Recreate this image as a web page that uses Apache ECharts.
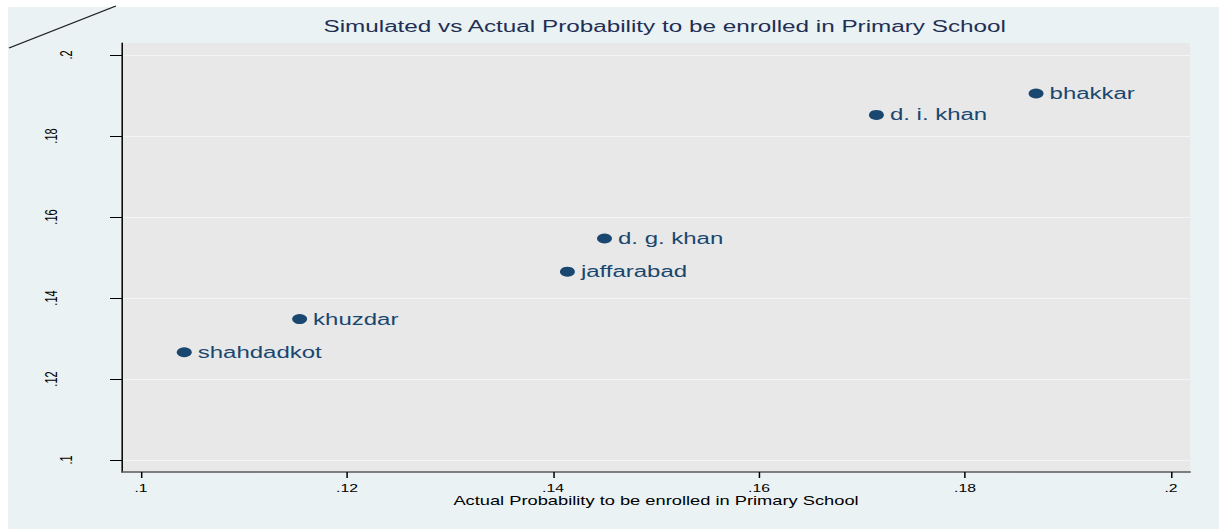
<!DOCTYPE html>
<html>
<head>
<meta charset="utf-8">
<title>Simulated vs Actual Probability</title>
<script src="https://cdn.jsdelivr.net/npm/echarts@6/dist/echarts.min.js"></script>
<style>
html, body { margin: 0; padding: 0; background: #fff; overflow: hidden; }
/* the source picture is stretched sideways, so draw narrow and widen */
#chart { width: 813px; height: 529px; transform: scaleX(1.4994); transform-origin: 0 0; }
</style>
</head>
<body>
<div id="chart"></div>
<script>
const districts = ["shahdadkot", "khuzdar", "jaffarabad", "d. g. khan", "d. i. khan", "bhakkar"];
const actualProb = [0.1042, 0.1154, 0.1414, 0.1450, 0.1714, 0.1869];
const simulatedProb = [0.1266, 0.1348, 0.1465, 0.1547, 0.1852, 0.1905];
const xTicks = [0.1, 0.12, 0.14, 0.16, 0.18, 0.2];
const xTickLabels = [".1", ".12", ".14", ".16", ".18", ".2"];
const yTicks = [0.1, 0.12, 0.14, 0.16, 0.18, 0.2];
const yTickLabels = [".1", ".12", ".14", ".16", ".18", ".2"];

const FONT = "'Liberation Sans', Arial, Helvetica, sans-serif";
const NAVY = "#1a476f";

function tickText(ticks, labels, v) {
  const i = ticks.findIndex(t => Math.abs(t - v) < 1e-9);
  return i >= 0 ? labels[i] : "";
}

const chart = echarts.init(document.getElementById("chart"), null, { renderer: "svg" });

const option = {
  backgroundColor: "#fff",
  animation: false,
  graphic: [
    {
      type: "rect",
      z: -100,
      shape: { x: 5.33, y: 7, width: 900, height: 600 },
      style: { fill: "#eaf2f3" }
    },
    {
      type: "line",
      z: 100,
      shape: { x1: 6, y1: 48, x2: 77.3, y2: 6 },
      style: { stroke: "#222", lineWidth: 1 }
    },
    {
      type: "text",
      x: 443.3,
      y: 26,
      style: {
        text: "Simulated vs Actual Probability to be enrolled in Primary School",
        fill: "#1f2f55",
        fontSize: 16.2,
        fontFamily: FONT,
        align: "center",
        verticalAlign: "middle"
      }
    }
  ],
  grid: {
    left: 81.37,
    right: 19.35,
    top: 43,
    bottom: 57,
    show: true,
    backgroundColor: "#e8e8e8",
    borderWidth: 0
  },
  xAxis: {
    type: "value",
    min: 0.098155,
    max: 0.201845,
    name: "Actual Probability to be enrolled in Primary School",
    nameLocation: "middle",
    nameGap: 23,
    nameMoveOverlap: false,
    nameTextStyle: { fontSize: 12.2, color: "#000", fontFamily: FONT },
    axisLine: { show: true, lineStyle: { color: "#5a5a5a", width: 1.5 } },
    axisTick: {
      show: true,
      length: 6,
      customValues: xTicks,
      lineStyle: { color: "#000", width: 1 }
    },
    axisLabel: {
      customValues: xTicks,
      margin: 11,
      fontSize: 10.5,
      color: "#000",
      fontFamily: FONT,
      formatter: v => tickText(xTicks, xTickLabels, v)
    },
    splitLine: { show: false }
  },
  yAxis: {
    type: "value",
    min: 0.097037,
    max: 0.202963,
    axisLine: { show: true, lineStyle: { color: "#000", width: 1 } },
    axisTick: {
      show: true,
      length: 8,
      customValues: yTicks,
      lineStyle: { color: "#000", width: 1 }
    },
    axisLabel: {
      customValues: yTicks,
      rotate: 90,
      margin: 32,
      fontSize: 11,
      color: "#000",
      fontFamily: FONT,
      formatter: v => {
        const s = tickText(yTicks, yTickLabels, v);
        return s.length > 2 ? "{l|" + s + "}" : "{s|" + s + "}";
      },
      rich: {
        l: { fontSize: 11, color: "#000", fontFamily: FONT, padding: [0, 0, 10, 0] },
        s: { fontSize: 11, color: "#000", fontFamily: FONT }
      }
    },
    splitLine: { show: true, lineStyle: { color: "#f1f5f7", width: 1 } }
  },
  series: [
    {
      type: "scatter",
      symbol: "circle",
      symbolSize: 10,
      itemStyle: { color: NAVY, opacity: 1 },
      emphasis: { disabled: true },
      label: {
        show: true,
        position: "right",
        distance: 4,
        formatter: "{b}",
        color: NAVY,
        fontSize: 16,
        fontFamily: FONT
      },
      data: districts.map((n, i) => ({ name: n, value: [actualProb[i], simulatedProb[i]] }))
    }
  ]
};

chart.setOption(option);
</script>
</body>
</html>
